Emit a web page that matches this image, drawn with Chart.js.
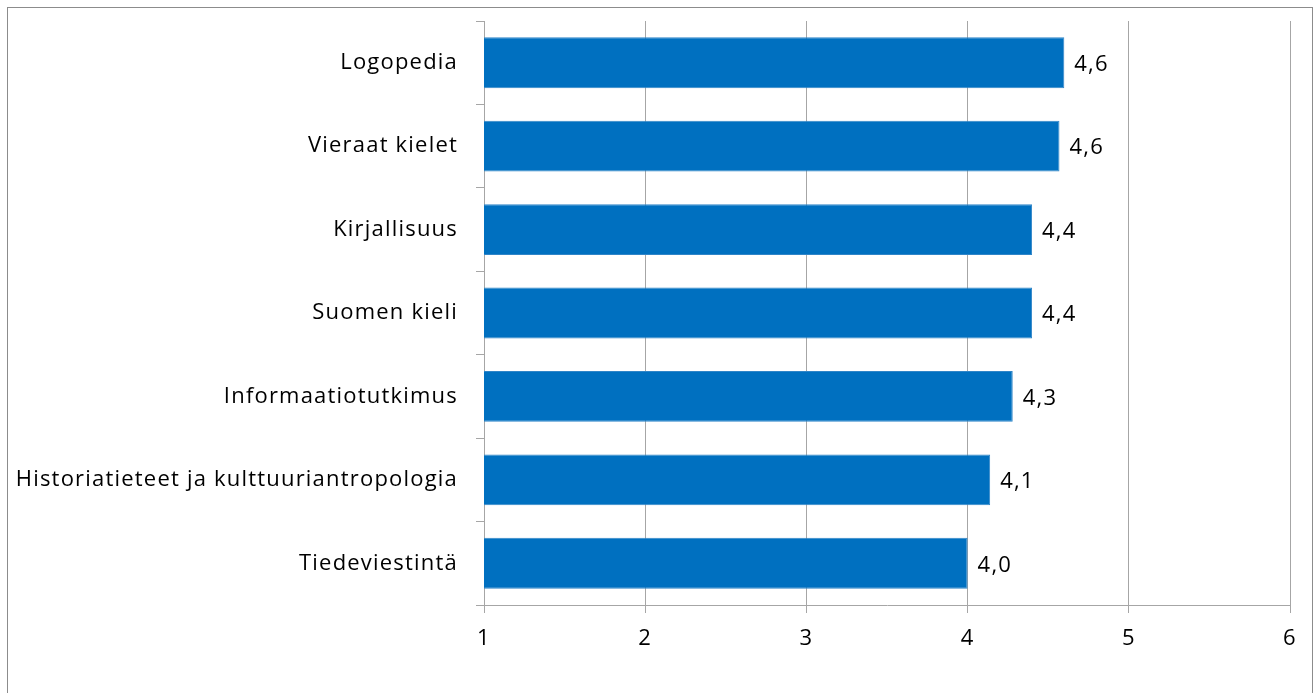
<!DOCTYPE html>
<html>
<head>
<meta charset="utf-8">
<script src="https://cdn.jsdelivr.net/npm/chart.js@4/dist/chart.umd.min.js"></script>
<style>
  html, body { margin: 0; padding: 0; background: #fff; }
  #wrap { width: 1314px; height: 693px; position: relative; }
</style>
</head>
<body>
<div id="wrap"><canvas id="chart" width="1314" height="693"></canvas></div>
<script>
// data
const categories = ['Logopedia', 'Vieraat kielet', 'Kirjallisuus', 'Suomen kieli',
  'Informaatiotutkimus', 'Historiatieteet ja kulttuuriantropologia', 'Tiedeviestintä'];
const scores = [4.60, 4.57, 4.40, 4.40, 4.28, 4.14, 4.00];
const xTicks = [1, 2, 3, 4, 5, 6];

const fontFamily = '"Open Sans", "DejaVu Sans", sans-serif';
const fontSize = 22;
const gridColor = '#a6a6a6';

// frame around the whole chart + a bit of letter spacing for all text
const framePlugin = {
  id: 'frame',
  beforeDraw(chart) {
    const ctx = chart.ctx;
    ctx.letterSpacing = '1.2px';
    ctx.save();
    ctx.fillStyle = '#fff';
    ctx.fillRect(0, 0, chart.width, chart.height);
    ctx.strokeStyle = '#8c8c8c';
    ctx.lineWidth = 1;
    ctx.strokeRect(7.5, 7.5, 1305, 700);
    ctx.restore();
  }
};

// value labels after each bar
const valueLabels = {
  id: 'valueLabels',
  afterDatasetsDraw(chart) {
    const ctx = chart.ctx;
    const meta = chart.getDatasetMeta(0);
    ctx.save();
    ctx.font = fontSize + 'px ' + fontFamily;
    ctx.fillStyle = '#000';
    ctx.textAlign = 'left';
    ctx.textBaseline = 'middle';
    meta.data.forEach((bar, i) => {
      const txt = scores[i].toFixed(1).replace('.', ',');
      ctx.fillText(txt, bar.x + 10, bar.y + 2);
    });
    ctx.restore();
  }
};

new Chart(document.getElementById('chart').getContext('2d'), {
  type: 'bar',
  data: {
    labels: categories,
    datasets: [{
      data: scores,
      backgroundColor: '#0070c0',
      borderColor: '#2f85c8',
      borderWidth: 1,
      borderSkipped: false,
      categoryPercentage: 0.61,
      barPercentage: 1.0
    }]
  },
  options: {
    indexAxis: 'y',
    responsive: false,
    animation: false,
    layout: { padding: { left: 0, right: 24, top: 21, bottom: 0 } },
    plugins: {
      legend: { display: false },
      tooltip: { enabled: false }
    },
    scales: {
      x: {
        min: 1,
        max: 6,
        afterBuildTicks(scale) {
          scale.ticks = xTicks.map(v => ({ value: v }));
        },
        afterFit(scale) {
          scale.height = 88;
          scale.paddingLeft = 0;
          scale.paddingRight = 0;
        },
        grid: {
          color: gridColor,
          lineWidth: 1,
          drawTicks: true,
          tickLength: 8,
          tickColor: gridColor
        },
        border: { color: gridColor, width: 1 },
        ticks: {
          color: '#000',
          font: { family: fontFamily, size: fontSize },
          padding: 13,
          maxRotation: 0
        }
      },
      y: {
        afterFit(scale) {
          scale.width = 484;
          scale.paddingTop = 0;
          scale.paddingBottom = 0;
        },
        grid: {
          offset: true,
          drawOnChartArea: false,
          drawTicks: true,
          tickLength: 8,
          color: gridColor
        },
        border: { color: gridColor, width: 1 },
        ticks: {
          color: '#000',
          font: { family: fontFamily, size: fontSize },
          padding: 18
        }
      }
    }
  },
  plugins: [framePlugin, valueLabels]
});
</script>
</body>
</html>
